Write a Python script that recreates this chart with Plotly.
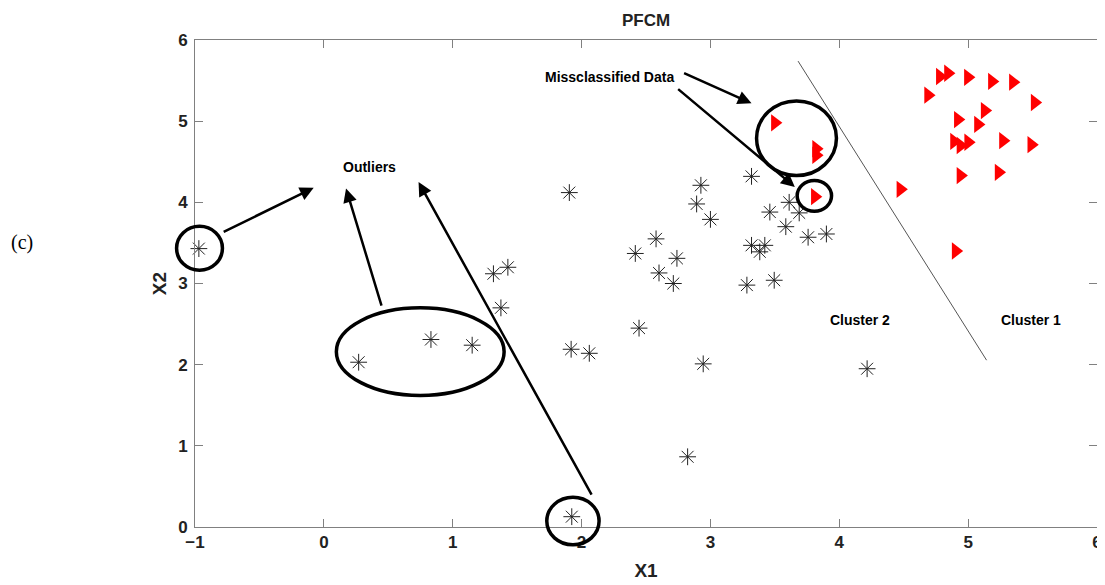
import plotly.graph_objects as go

# ---- data ----
cluster2_x = [-0.97, 1.905, 1.316, 1.428, 0.27, 0.831, 1.151, 1.374, 1.919, 2.06, 1.924,
              2.446, 2.601, 2.712, 2.74, 3.283, 3.495, 2.944, 4.216, 2.823,
              2.926, 2.893, 3.0, 2.578, 2.417, 3.319, 3.461, 3.611, 3.689, 3.585,
              3.758, 3.90, 3.319, 3.422, 3.383]
cluster2_y = [3.43, 4.12, 3.12, 3.20, 2.03, 2.31, 2.24, 2.70, 2.19, 2.14, 0.127,
              2.45, 3.13, 3.00, 3.31, 2.98, 3.04, 2.01, 1.95, 0.865,
              4.21, 3.98, 3.79, 3.55, 3.37, 4.32, 3.88, 4.00, 3.87, 3.70,
              3.57, 3.61, 3.47, 3.47, 3.39]

cluster1_x = [3.50, 3.82, 3.82, 3.81, 4.474, 4.689, 4.78, 4.843, 4.998, 5.184, 5.347,
              5.516, 4.92, 5.128, 5.076, 4.89, 4.94, 5.0, 5.27, 5.49, 4.94, 5.236, 4.903]
cluster1_y = [4.98, 4.66, 4.58, 4.07, 4.16, 5.32, 5.55, 5.59, 5.54, 5.49, 5.48,
              5.23, 5.02, 5.13, 4.96, 4.75, 4.70, 4.74, 4.76, 4.71, 4.33, 4.37, 3.40]

boundary_x = [3.68, 5.143]
boundary_y = [5.74, 2.055]

x_range = [-1, 6]
y_range = [0, 6]
tick_vals_x = [-1, 0, 1, 2, 3, 4, 5, 6]
tick_vals_y = [0, 1, 2, 3, 4, 5, 6]

# ellipses (x0, x1, y0, y1) in data units
ellipses = [
    (-1.143, -0.787, 3.163, 3.705),
    (0.097, 1.399, 1.62, 2.70),
    (1.73, 2.136, -0.22, 0.366),
    (3.358, 3.978, 4.33, 5.25),
    (3.673, 3.94, 3.89, 4.27),
]
# arrows (tail x, tail y, head x, head y)
arrows = [
    (-0.789, 3.627, -0.079, 4.18),
    (0.451, 2.71, 0.172, 4.17),
    (2.084, 0.38, 0.735, 4.25),
    (2.784, 5.60, 3.319, 5.22),
    (2.738, 5.41, 3.655, 4.19),
]
labels = [("Outliers", 0.352, 4.44), ("Missclassified Data", 2.22, 5.55),
          ("Cluster 2", 4.16, 2.55), ("Cluster 1", 5.49, 2.55)]

FONT = "Liberation Sans, Arial, Helvetica, sans-serif"

# page body adds an 8px offset; figure coordinates are screen minus 8
OFF = 8
L, R, T, B = 194.5 - OFF, 1097.5 - OFF, 39.5 - OFF, 527.0 - OFF
W, H = 1105, 585

def dx(v):
    return (v - x_range[0]) / (x_range[1] - x_range[0])

def dy(v):
    return (v - y_range[0]) / (y_range[1] - y_range[0])

fig = go.Figure()
fig.add_trace(go.Scatter(x=boundary_x, y=boundary_y, mode="lines",
                         line=dict(color="#555555", width=1), showlegend=False,
                         hoverinfo="skip"))
fig.add_trace(go.Scatter(x=cluster2_x, y=cluster2_y, mode="markers",
                         marker=dict(symbol="asterisk-open", size=14, color="#222222",
                                     line=dict(color="#222222", width=1)),
                         showlegend=False, cliponaxis=False))
fig.add_trace(go.Scatter(x=cluster1_x, y=cluster1_y, mode="markers",
                         marker=dict(symbol="triangle-right", size=15, color="#ff0000",
                                     line=dict(width=0)),
                         showlegend=False, cliponaxis=False))

for (x0, x1, y0, y1) in ellipses:
    fig.add_shape(type="circle", xref="x domain", yref="y domain",
                  x0=dx(x0), x1=dx(x1), y0=dy(y0), y1=dy(y1),
                  line=dict(color="black", width=3.5), layer="above")

for (tx, ty, hx, hy) in arrows:
    fig.add_annotation(x=hx, y=hy, ax=tx, ay=ty, xref="x", yref="y",
                       axref="x", ayref="y", text="", showarrow=True,
                       arrowhead=2, arrowsize=1.1, arrowwidth=2.5, arrowcolor="black")

for (t, x, y) in labels:
    fig.add_annotation(x=x, y=y, xref="x", yref="y", text=t, showarrow=False,
                       font=dict(family=FONT, size=14, color="black", weight="bold"))

fig.add_annotation(x=(21 - OFF - L) / (R - L), y=(B - (242 - OFF)) / (B - T),
                   xref="paper", yref="paper",
                   text="(c)", showarrow=False, xanchor="center", yanchor="middle",
                   font=dict(family="Liberation Serif, Times New Roman, serif", size=20,
                             color="black"))

axis_common = dict(showgrid=False, zeroline=False, showline=True, linecolor="#808080",
                   linewidth=1, mirror="ticks", ticks="inside", ticklen=8,
                   tickcolor="#808080", automargin=False,
                   tickfont=dict(family=FONT, size=17, color="#222222", weight="bold"))

fig.update_layout(
    width=W, height=H,
    margin=dict(l=L, r=W - R, t=T, b=H - B, autoexpand=False),
    paper_bgcolor="white", plot_bgcolor="white",
    title=dict(text="PFCM", x=(L + R) / 2 / W, xanchor="center",
               y=1 - (20 - OFF) / H, yanchor="middle",
               font=dict(family=FONT, size=17, color="#222222", weight="bold")),
    xaxis=dict(range=x_range, tickvals=tick_vals_x, **axis_common,
               title=dict(text="X1", standoff=12,
                          font=dict(family=FONT, size=19, color="#222222", weight="bold"))),
    yaxis=dict(range=y_range, tickvals=tick_vals_y, **axis_common,
               ticklabelstandoff=3,
               title=dict(text="X2", standoff=6,
                          font=dict(family=FONT, size=19, color="#222222", weight="bold"))),
)

fig.write_html("out.html")
